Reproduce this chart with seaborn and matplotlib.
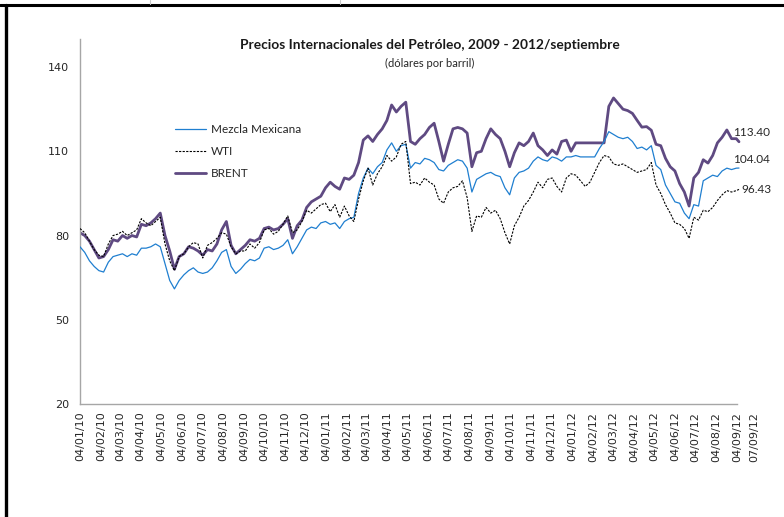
import matplotlib
matplotlib.use('Agg')
import matplotlib.pyplot as plt
import matplotlib.dates as mdates
from matplotlib.lines import Line2D
import seaborn as sns
import pandas as pd

# precios semanales (lunes) 2010-01-04 .. 2012-09-03, mas el ultimo dato 07/09/12
fechas = list(pd.date_range('2010-01-04', '2012-09-03', freq='W-MON')) + [pd.Timestamp('2012-09-07')]

brent = [
    # 2010
    81.0, 80.0, 78.0, 75.0, 72.0, 72.5, 75.0, 78.5, 78.0, 80.0, 79.0, 80.0, 79.5,
    84.0, 83.5, 84.5, 86.0, 88.0, 80.0, 74.5, 68.0, 72.5, 73.5, 76.0, 75.5, 74.5,
    73.0, 75.0, 74.5, 77.0, 82.0, 85.0, 76.5, 73.5, 75.0, 76.5, 78.5, 78.0, 79.0,
    82.5, 83.0, 82.0, 82.5, 84.0, 86.0, 79.0, 83.5, 85.5, 90.0, 92.0, 93.0, 94.0,
    # 2011
    97.0, 99.0, 97.5, 96.5, 100.5, 100.0, 101.5, 106.0, 114.0, 115.5, 113.5, 116.0, 118.0,
    121.0, 126.5, 124.0, 126.0, 127.5, 113.5, 112.5, 114.5, 116.0, 118.5, 120.0, 113.5, 106.5,
    112.5, 118.0, 118.5, 118.0, 116.5, 104.5, 109.5, 110.0, 114.5, 118.0, 116.0, 114.5, 110.0,
    104.5, 109.5, 113.0, 112.0, 113.5, 116.5, 112.0, 110.5, 108.5, 110.5, 109.0, 113.5, 114.0,
    # 2012
    110.0, 113.0, 113.0, 113.0, 113.0, 113.0, 113.0, 113.0, 126.0, 129.0, 127.0, 125.0, 124.5,
    123.5, 121.0, 118.6, 118.8, 117.5, 112.5, 112.0, 107.5, 104.5, 103.0, 98.5, 95.5, 90.5,
    100.5, 102.5, 107.0, 105.8, 108.5, 113.0, 115.0, 117.6, 114.5, 114.5, 113.40,
]

mezcla = [
    # 2010
    76.0, 74.0, 71.0, 69.0, 67.5, 67.0, 70.5, 72.5, 73.0, 73.5, 72.5, 73.5, 73.0,
    75.5, 75.5, 76.0, 77.0, 76.0, 70.0, 64.0, 61.0, 64.0, 66.0, 67.5, 68.5, 67.0,
    66.5, 67.0, 68.5, 71.0, 74.0, 75.0, 69.0, 66.5, 68.0, 70.0, 71.5, 71.0, 72.0,
    75.5, 76.0, 75.0, 75.5, 76.5, 78.5, 73.5, 76.0, 79.0, 82.0, 83.0, 82.5, 84.5,
    # 2011
    85.0, 84.0, 84.5, 82.5, 85.0, 86.0, 86.5, 95.0, 100.5, 104.0, 102.0, 104.5, 106.0,
    110.5, 113.0, 110.0, 112.0, 112.5, 104.0, 106.0, 105.5, 107.5, 107.0, 106.0, 103.5, 103.0,
    105.0, 106.0, 107.0, 106.5, 104.0, 95.5, 100.0, 101.0, 102.0, 102.5, 101.5, 101.0, 97.0,
    94.5, 100.5, 102.5, 103.0, 104.0, 106.5, 108.0, 107.0, 106.5, 108.0, 107.5, 106.5, 108.0,
    # 2012
    108.0, 108.5, 108.0, 108.0, 108.0, 108.0, 111.0, 113.5, 117.0, 116.0, 115.0, 114.5, 115.0,
    113.5, 111.0, 111.5, 110.5, 112.0, 105.0, 103.5, 98.0, 95.0, 92.0, 91.5, 88.0, 86.0,
    91.0, 90.5, 99.5, 100.5, 101.5, 101.0, 103.0, 104.0, 103.5, 104.0, 104.04,
]

wti = [
    # 2010
    82.5, 81.0, 78.0, 75.0, 73.0, 72.5, 77.0, 80.0, 80.5, 81.5, 80.0, 81.0, 82.0,
    86.0, 84.5, 83.5, 85.0, 86.5, 77.0, 71.0, 67.5, 72.5, 73.5, 76.0, 77.5, 77.0,
    72.0, 76.5, 77.5, 79.0, 81.0, 80.5, 76.0, 73.5, 74.5, 74.5, 77.0, 75.5, 77.5,
    82.0, 82.5, 80.5, 81.5, 84.0, 87.0, 81.0, 82.0, 85.0, 89.0, 88.0, 89.5, 91.0,
    # 2011
    91.5, 88.5, 91.0, 86.5, 90.5, 87.0, 85.0, 93.0, 99.5, 104.0, 98.0, 102.0, 104.5,
    108.5, 106.5, 108.0, 112.5, 113.5, 98.5, 99.0, 98.0, 100.5, 99.0, 98.0, 93.0, 91.5,
    95.5, 97.0, 97.5, 99.5, 93.5, 81.5, 87.0, 86.5, 90.0, 88.0, 89.0, 86.0, 81.0,
    77.0, 83.5, 86.5, 90.5, 92.5, 95.5, 99.0, 97.0, 100.0, 100.5, 97.5, 95.5, 100.5,
    # 2012
    102.0, 101.5, 99.5, 97.5, 99.0, 102.5, 106.0, 108.5, 108.0, 105.5, 105.0, 105.5, 104.5,
    103.5, 102.5, 103.0, 103.5, 106.0, 98.0, 95.0, 91.0, 88.0, 84.5, 84.0, 82.5, 79.0,
    86.5, 85.5, 89.0, 88.5, 90.0, 92.5, 94.5, 96.0, 95.5, 96.0, 96.43,
]

ticks_x = list(pd.date_range('2010-01-04', '2012-09-04', freq=pd.DateOffset(months=1)))
etiquetas_x = [t.strftime('%d/%m/%y') for t in ticks_x] + ['07/09/12']
ticks_y = [20, 50, 80, 110, 140]

df = pd.DataFrame({'fecha': fechas, 'Mezcla Mexicana': mezcla, 'WTI': wti, 'BRENT': brent})

sns.set_style('white')
plt.rcParams['font.family'] = ['DejaVu Sans']

fig = plt.figure(figsize=(7.84, 5.17), dpi=100)
ax = fig.add_axes([80 / 784, 1 - 404 / 517, (768 - 80) / 784, (404 - 39) / 517])

c_mezcla = '#1F7FD0'
c_wti = '#000000'
c_brent = '#5F4A82'

sns.lineplot(data=df, x='fecha', y='Mezcla Mexicana', ax=ax, color=c_mezcla,
             linewidth=0.9, label='Mezcla Mexicana', zorder=3)
sns.lineplot(data=df, x='fecha', y='WTI', ax=ax, color=c_wti, linewidth=0.8,
             linestyle=(0, (2.0, 1.2)), label='WTI', zorder=4)
sns.lineplot(data=df, x='fecha', y='BRENT', ax=ax, color=c_brent,
             linewidth=2.0, label='BRENT', zorder=2)

ax.set_xlim(pd.Timestamp('2010-01-04'), pd.Timestamp('2012-10-20'))
ax.set_ylim(20, 150)
ax.set_yticks(ticks_y)
ax.set_yticklabels([str(v) for v in ticks_y])

pos_x = [mdates.date2num(t) for t in ticks_x] + [mdates.date2num(pd.Timestamp('2012-09-29'))]
ax.set_xticks(pos_x)
ax.set_xticklabels(etiquetas_x, rotation=90)
ax.set_xlabel('')
ax.set_ylabel('')

for s in ['top', 'right']:
    ax.spines[s].set_visible(False)
for s in ['left', 'bottom']:
    ax.spines[s].set_color('#A6A6A6')
    ax.spines[s].set_linewidth(1.0)
ax.spines['bottom'].set_bounds(mdates.date2num(pd.Timestamp('2010-01-04')),
                               mdates.date2num(pd.Timestamp('2012-09-04')))
ax.tick_params(axis='both', length=0, labelsize=8, colors='#262626')
ax.tick_params(axis='x', pad=5.5)
ax.tick_params(axis='y', pad=8)

ax.legend(loc='upper left', bbox_to_anchor=(175 / 784, 1 - 124 / 517),
          bbox_transform=fig.transFigure, frameon=False, borderpad=0, borderaxespad=0,
          handlelength=2.6, handletextpad=0.45, labelspacing=0.95,
          prop={'family': 'Lato', 'size': 8.5})

# valores finales
ultimo = fechas[-1]
ax.annotate(f'{brent[-1]:.2f}', xy=(ultimo, brent[-1]), xytext=(-4, 7), textcoords='offset points',
            va='center', ha='left', fontsize=8.5, family='Lato', color='#262626')
ax.annotate(f'{mezcla[-1]:.2f}', xy=(ultimo, mezcla[-1]), xytext=(-4, 6), textcoords='offset points',
            va='center', ha='left', fontsize=8.5, family='Lato', color='#262626')
ax.annotate(f'{wti[-1]:.2f}', xy=(ultimo, wti[-1]), xytext=(2, 0), textcoords='offset points',
            va='center', ha='left', fontsize=8.5, family='Lato', color='#262626')

fig.text(430 / 784, 1 - 45 / 517, 'Precios Internacionales del Petróleo, 2009 - 2012/septiembre',
         ha='center', va='center', fontsize=9.9, fontweight='bold', family='Lato', color='#1a1a1a')
fig.text(430 / 784, 1 - 63 / 517, '(dólares por barril)', ha='center', va='center',
         fontsize=8, family='Lato', color='#262626')

# marco de la imagen original
fig.add_artist(Line2D([0, 1], [1 - 5 / 517, 1 - 5 / 517], color='black', linewidth=2.2,
                      transform=fig.transFigure))
fig.add_artist(Line2D([6 / 784, 6 / 784], [0, 1 - 5 / 517], color='black', linewidth=2.4,
                      transform=fig.transFigure))
for xm in [150, 340]:
    fig.add_artist(Line2D([xm / 784, xm / 784], [1, 1 - 4 / 517], color='#C8C8C8', linewidth=0.8,
                          transform=fig.transFigure))

fig.savefig('out.png', dpi=100)
